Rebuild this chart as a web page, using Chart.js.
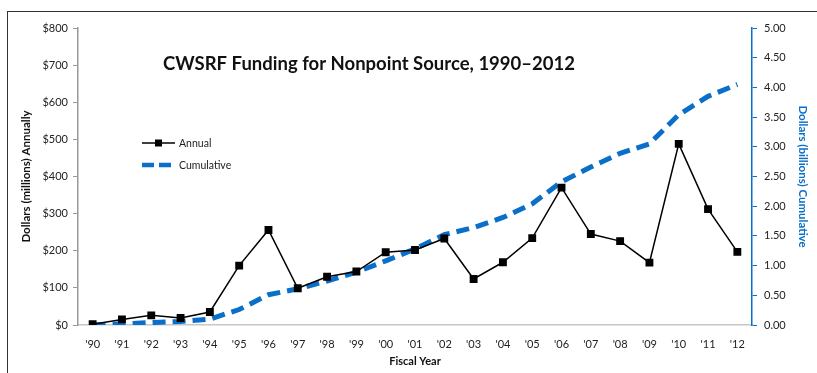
<!DOCTYPE html>
<html>
<head>
<meta charset="utf-8">
<script src="https://cdn.jsdelivr.net/npm/chart.js@4/dist/chart.umd.min.js"></script>
<style>
  html, body { margin: 0; padding: 0; background: #fff; }
  #wrap { position: relative; width: 817px; height: 373px; overflow: hidden; }
  #frame { position: absolute; left: 7px; top: 11px; width: 900px; height: 500px; border: 1.5px solid #333; }
  canvas { position: absolute; left: 0; top: 0; }
</style>
</head>
<body>
<div id="wrap">
  <div id="frame"></div>
  <canvas id="chart" width="817" height="373"></canvas>
</div>
<script>
var years = ["'90","'91","'92","'93","'94","'95","'96","'97","'98","'99","'00","'01","'02","'03","'04","'05","'06","'07","'08","'09","'10","'11","'12"];
// annual funding, $ millions
var annual = [2, 15, 26, 19, 35, 160, 256, 99, 130, 144, 196, 202, 233, 124, 169, 234, 370, 245, 226, 168, 488, 312, 197];
// cumulative funding, $ billions
var cumulative = [0.00, 0.02, 0.04, 0.06, 0.10, 0.26, 0.51, 0.61, 0.74, 0.89, 1.08, 1.28, 1.52, 1.64, 1.81, 2.04, 2.41, 2.66, 2.89, 3.05, 3.54, 3.85, 4.05];
var chartTitle = "CWSRF Funding for Nonpoint Source, 1990\u20132012";

var FONT = "Lato";
var BLUE = "#0a6fc9";

var overlay = {
  id: 'overlay',
  afterDraw: function (chart) {
    var ctx = chart.ctx, a = chart.chartArea;
    ctx.save();
    // title inside plot
    ctx.fillStyle = "#111";
    ctx.font = "bold 18.5px " + FONT;
    ctx.textAlign = "center";
    ctx.textBaseline = "middle";
    ctx.fillText(chartTitle, a.left + 291, a.top + 36);
    // legend inside plot
    var lx = a.left + 64, ly = a.top + 115;
    ctx.font = "10.5px " + FONT;
    ctx.textAlign = "left";
    ctx.strokeStyle = "#000";
    ctx.lineWidth = 1.5;
    ctx.beginPath(); ctx.moveTo(lx, ly); ctx.lineTo(lx + 33, ly); ctx.stroke();
    ctx.fillStyle = "#000";
    ctx.fillRect(lx + 13, ly - 3.5, 7, 7);
    ctx.fillStyle = "#222";
    ctx.fillText("Annual", lx + 37, ly + 1);
    ly += 22;
    ctx.strokeStyle = BLUE;
    ctx.lineWidth = 4.5;
    ctx.setLineDash([12, 5]);
    ctx.beginPath(); ctx.moveTo(lx, ly); ctx.lineTo(lx + 33, ly); ctx.stroke();
    ctx.setLineDash([]);
    ctx.fillText("Cumulative", lx + 37, ly + 1);
    ctx.restore();
  }
};

new Chart(document.getElementById("chart"), {
  type: 'line',
  data: {
    labels: years,
    datasets: [
      {
        label: "Annual",
        data: annual,
        yAxisID: 'y',
        borderColor: "#000",
        backgroundColor: "#000",
        borderWidth: 1.5,
        pointStyle: 'rect',
        pointRadius: 4.5,
        pointHoverRadius: 4.5,
        tension: 0,
        order: 1
      },
      {
        label: "Cumulative",
        data: cumulative,
        yAxisID: 'y1',
        borderColor: BLUE,
        borderWidth: 5,
        borderDash: [13, 7],
        borderCapStyle: 'butt',
        pointRadius: 0,
        tension: 0,
        order: 2
      }
    ]
  },
  options: {
    responsive: false,
    animation: false,
    layout: { padding: { top: 28, left: 0, right: 0, bottom: 0 } },
    plugins: {
      legend: { display: false },
      title: { display: false },
      tooltip: { enabled: false }
    },
    scales: {
      x: {
        offset: true,
        grid: { display: false },
        border: { display: true, color: "#c8c8c8", width: 1.5 },
        ticks: { color: "#222", font: { family: FONT, size: 11 }, padding: 5, maxRotation: 0, autoSkip: false },
        title: { display: true, text: "Fiscal Year", color: "#111", font: { family: FONT, size: 11, weight: 'bold' }, padding: { top: 0, bottom: 5 } },
        afterFit: function (s) { s.height = 48; }
      },
      y: {
        position: 'left',
        min: 0, max: 800,
        ticks: { stepSize: 100, color: "#222", font: { family: FONT, size: 11 }, padding: 5,
          callback: function (v) { return "$" + v; } },
        grid: { drawOnChartArea: false, drawTicks: true, tickLength: 5, color: "#999" },
        border: { display: true, color: "#999", width: 1.5 },
        title: { display: true, text: "Dollars (millions) Annually", color: "#111", font: { family: FONT, size: 11.5, weight: 'bold' }, padding: { top: 19, bottom: 0 } },
        afterFit: function (s) { s.width = 78; }
      },
      y1: {
        position: 'right',
        min: 0, max: 5,
        ticks: { stepSize: 0.5, color: "#222", font: { family: FONT, size: 11 }, padding: 7,
          callback: function (v) { return v.toFixed(2); } },
        grid: { drawOnChartArea: false, drawTicks: true, tickLength: 5, color: BLUE },
        border: { display: true, color: BLUE, width: 1.5 },
        title: { display: true, text: "Dollars (billions) Cumulative", color: BLUE, font: { family: FONT, size: 11.5, weight: 'bold' }, padding: { top: 7, bottom: 0 } },
        afterFit: function (s) { s.width = 65; }
      }
    }
  },
  plugins: [overlay]
});
</script>
</body>
</html>
